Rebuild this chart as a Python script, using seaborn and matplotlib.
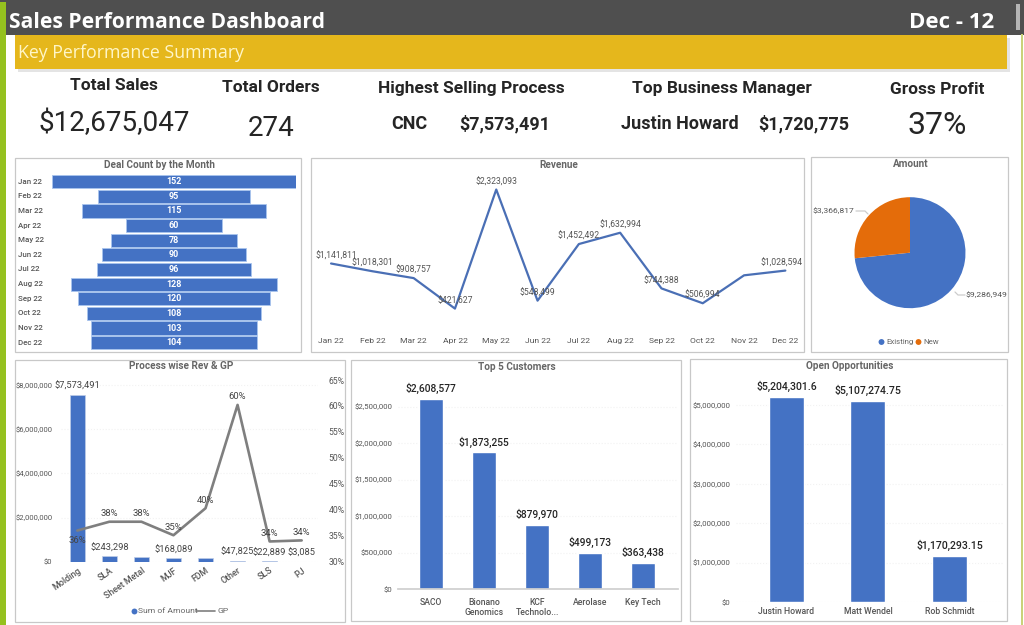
import matplotlib
matplotlib.use('Agg')
import matplotlib.pyplot as plt
from matplotlib.patches import Rectangle
from matplotlib.lines import Line2D
import numpy as np
import pandas as pd
import seaborn as sns

months = ['Jan 22', 'Feb 22', 'Mar 22', 'Apr 22', 'May 22', 'Jun 22',
          'Jul 22', 'Aug 22', 'Sep 22', 'Oct 22', 'Nov 22', 'Dec 22']
deal_counts = np.array([152, 95, 115, 60, 78, 90, 96, 128, 120, 108, 103, 104])
revenue = [1141811, 1018301, 908757, 421627, 2323093, 548499,
           1452492, 1632994, 744388, 506994, 953000, 1028594]
revenue_labels = ['$1,141,811', '$1,018,301', '$908,757', '$421,627', '$2,323,093', '$548,499',
                  '$1,452,492', '$1,632,994', '$744,388', '$506,994', '', '$1,028,594']

amount_names = ['Existing', 'New']
amount_values = [9286949, 3366817]

processes = ['Molding', 'SLA', 'Sheet Metal', 'MJF', 'FDM', 'Other', 'SLS', 'PJ']
process_rev = [7573491, 243298, 230000, 168089, 165000, 47825, 22889, 3085]
process_rev_labels = ['$7,573,491', '$243,298', '', '$168,089', '', '$47,825', '$22,889', '$3,085']
process_gp = [36, 37.7, 37.7, 35.1, 40.3, 60.2, 33.9, 34.1]
gp_labels = ['36%', '38%', '38%', '35%', '40%', '60%', '34%', '34%']

customers = ['SACO', 'Bionano\nGenomics', 'KCF\nTechnolo...', 'Aerolase', 'Key Tech']
customer_values = [2608577, 1873255, 879970, 499173, 363438]
customer_labels = ['$2,608,577', '$1,873,255', '$879,970', '$499,173', '$363,438']

managers = ['Justin Howard', 'Matt Wendel', 'Rob Schmidt']
manager_values = [5204301.6, 5107274.75, 1170293.15]
manager_labels = ['$5,204,301.6', '$5,107,274.75', '$1,170,293.15']

BLUE = '#4472C4'
ORANGE = '#E46C0A'
GREY_TXT = '#666666'
DARK = '#252525'
W, H = 1024, 625

sns.set_theme(style='white')
plt.rcParams['font.family'] = ['Roboto', 'DejaVu Sans']

fig = plt.figure(figsize=(W / 100, H / 100), dpi=100, facecolor='white')


def px_axes(x0, y0, x1, y1):
    # axes from pixel box, y counted from the top
    ax = fig.add_axes([x0 / W, 1 - y1 / H, (x1 - x0) / W, (y1 - y0) / H])
    ax.patch.set_alpha(0)
    sns.despine(ax=ax, left=True, bottom=True)
    return ax


bg = fig.add_axes([0, 0, 1, 1], zorder=-5)
bg.set_xlim(0, W)
bg.set_ylim(H, 0)
bg.axis('off')


def box(x0, y0, x1, y1, title, title_y):
    bg.add_patch(Rectangle((x0, y0), x1 - x0, y1 - y0, fc='white', ec='#c8c8c8', lw=0.9))
    bg.text((x0 + x1) / 2 + 1, title_y, title, ha='center', va='center', fontsize=7.2,
            fontweight='bold', color=GREY_TXT)


# header strips
bg.add_patch(Rectangle((0, 0), W, 34.5, fc='#4f4f4f', ec='none'))
bg.add_patch(Rectangle((0, 2), 6, H, fc='#95C11F', ec='none'))
bg.add_patch(Rectangle((1021, 34), 1.5, H, fc='#C9D27A', ec='none'))
bg.add_patch(Rectangle((18, 38), 992, 34, fc='#e4e4e4', ec='none'))
bg.add_patch(Rectangle((15, 35), 992, 34, fc='#E5B71C', ec='none'))
bg.add_patch(Rectangle((1016, 4), 4, 26, fc='#b5b5b5', ec='none'))
bg.text(9, 22, 'Sales Performance Dashboard', color='white', fontsize=15.1, fontweight='bold',
        family='Open Sans', va='center')
bg.text(952, 22, 'Dec - 12', color='white', fontsize=16, fontweight='bold',
        family='Open Sans', ha='center', va='center')
bg.text(18, 53, 'Key Performance Summary', color='#FFF6C8', fontsize=12.8, family='Open Sans', va='center')

# KPI row
kpis = [(114, 86, 'Total Sales', 12.5, 'bold'), (271, 87, 'Total Orders', 12.5, 'bold'),
        (471, 88, 'Highest Selling Process', 12.5, 'bold'), (722, 88, 'Top Business Manager', 12.5, 'bold'),
        (937, 89, 'Gross Profit', 12.5, 'bold'),
        (114, 123, '$12,675,047', 20, 'normal'), (271, 129, '274', 20, 'normal'),
        (409, 124, 'CNC', 13, 'bold'), (505, 124, '$7,573,491', 13, 'bold'),
        (680, 124, 'Justin Howard', 13, 'bold'), (804, 124, '$1,720,775', 13, 'bold'),
        (937, 125, '37%', 23, 'normal')]
for kx, ky, ktext, ksize, kweight in kpis:
    bg.text(kx, ky, ktext, ha='center', va='center', fontsize=ksize, fontweight=kweight, color=DARK)

box(15, 158, 301, 352, 'Deal Count by the Month', 165)
box(311, 158, 804, 352, 'Revenue', 165)
box(811, 157, 1008, 352, 'Amount', 164)
box(15, 360, 345, 622, 'Process wise Rev & GP', 366)
box(351, 360, 681, 621, 'Top 5 Customers', 367)
box(690, 359, 1007, 621, 'Open Opportunities', 366)

# funnel
ax = px_axes(52, 174.4, 296, 350)
funnel_df = pd.DataFrame({'month': months, 'count': deal_counts})
sns.barplot(data=funnel_df, x='count', y='month', left=-deal_counts / 2, color=BLUE, saturation=1,
            width=0.9, edgecolor='#A9C4EE', linewidth=0.6, ax=ax)
ax.set_xlim(-76, 76)
ax.set_xlabel('')
ax.set_ylabel('')
ax.set_xticks([])
ax.tick_params(axis='y', length=0, pad=0)
ax.set_yticks(range(12), [])
for i, (m, c) in enumerate(zip(months, deal_counts)):
    ax.text(0, i, str(c), ha='center', va='center', color='white', fontsize=6.5, fontweight='bold')
    bg.text(18, 181.7 + i * 14.63, m, ha='left', va='center', fontsize=5.7, color='#555555', fontweight='medium')

# revenue line
ax = px_axes(310.4, 170, 806, 335)
rev_df = pd.DataFrame({'month': months, 'revenue': revenue})
sns.lineplot(data=rev_df, x='month', y='revenue', color='#4A6FB5', linewidth=1.6, ax=ax)
ax.set_xlim(-0.5, 11.5)
ax.set_ylim(0, 2635000)
ax.set_xlabel('')
ax.set_ylabel('')
ax.set_yticks([])
ax.tick_params(axis='x', length=0, labelsize=6.1, labelcolor='#555555', pad=2)
for i, (v, t) in enumerate(zip(revenue, revenue_labels)):
    # first and last labels are pushed inside the panel
    dx = 3.5 if i == 0 else (-3 if i == 11 else 0)
    ax.annotate(t, (i, v), xytext=(dx, 5.6), textcoords='offset points', ha='center', va='center',
                fontsize=6.2, color='#555555')

# pie
ax = fig.add_axes([(910 - 55.5) / W, 1 - (252.7 + 55.5) / H, 111 / W, 111 / H])
ax.pie(amount_values, colors=[BLUE, ORANGE], startangle=90, counterclock=False, radius=1,
       wedgeprops={'linewidth': 0})
ax.set_xlim(-1, 1)
ax.set_ylim(-1, 1)
bg.text(833.5, 211, '$3,366,817', ha='center', va='center', fontsize=6.1, color='#555555')
bg.add_line(Line2D([856, 865, 868], [211, 211, 214], color='#cccccc', lw=0.9))
bg.text(986, 295, '$9,286,949', ha='center', va='center', fontsize=6.1, color='#555555')
bg.add_line(Line2D([955, 958, 965], [292, 295, 295], color='#cccccc', lw=0.9))
bg.scatter([881.5, 918.5], [342, 342], c=[BLUE, ORANGE], s=18, linewidths=0)
bg.text(886, 342, amount_names[0], ha='left', va='center', fontsize=5.7, color='#666666')
bg.text(923.5, 342, amount_names[1], ha='left', va='center', fontsize=5.7, color='#666666')

# process combo chart
ax = px_axes(61.3, 380, 317.7, 561.7)
proc_df = pd.DataFrame({'process': processes, 'rev': process_rev, 'gp': process_gp})
sns.barplot(data=proc_df, x='process', y='rev', color=BLUE, saturation=1, width=0.47,
            edgecolor='#BFCDE8', linewidth=0.5, ax=ax)
ax.set_ylim(0, 8240000)
ax.set_yticks([0, 2000000, 4000000, 6000000, 8000000],
              ['$0', '$2,000,000', '$4,000,000', '$6,000,000', '$8,000,000'])
ax.yaxis.grid(True, color='#f2f2f2', lw=0.8, ls=':')
ax.set_axisbelow(True)
ax.set_xlabel('')
ax.set_ylabel('')
ax.tick_params(axis='y', length=0, labelsize=5.5, labelcolor='#555555', pad=6.5)
ax.tick_params(axis='x', length=0, labelsize=6.4, labelcolor='#555555', pad=3)
plt.setp(ax.get_xticklabels(), rotation=35, ha='right', rotation_mode='anchor', fontweight='medium')
ax.set_xlim(-0.5, 7.5)
for i, (v, t) in enumerate(zip(process_rev, process_rev_labels)):
    ax.annotate(t, (i, v), xytext=(0, 6), textcoords='offset points', ha='center', va='center',
                fontsize=6.7, color='#444444')

ax2 = ax.twinx()
ax2.patch.set_alpha(0)
sns.despine(ax=ax2, left=True, bottom=True, right=True)
sns.lineplot(data=proc_df, x='process', y='gp', color='#7F7F7F', linewidth=1.9, ax=ax2)
ax2.set_ylim(30, 65)
ax2.set_yticks(range(30, 66, 5), [f'{p}%' for p in range(30, 66, 5)])
ax2.set_ylabel('')
ax2.tick_params(axis='y', length=0, labelsize=6.2, labelcolor='#555555', pad=8)
for i, (v, t) in enumerate(zip(process_gp, gp_labels)):
    off = -7 if i == 0 else 5.8
    ax2.annotate(t, (i, v), xytext=(0, off), textcoords='offset points', ha='center', va='center',
                 fontsize=6.8, color='#444444')
bg.scatter([134], [611], c=[BLUE], s=18, linewidths=0)
bg.text(138, 611, 'Sum of Amount', ha='left', va='center', fontsize=6.1, color='#666666')
bg.add_line(Line2D([196, 215], [611, 611], color='#7F7F7F', lw=1.2))
bg.text(217, 611, 'GP', ha='left', va='center', fontsize=6.1, color='#666666')

# top customers
ax = px_axes(398, 370, 678, 589.3)
cust_df = pd.DataFrame({'customer': customers, 'value': customer_values})
sns.barplot(data=cust_df, x='customer', y='value', color=BLUE, saturation=1, width=0.46, ax=ax)
ax.set_xlim(-0.63, 4.668)
ax.set_ylim(0, 3000000)
ax.set_yticks(range(0, 2500001, 500000), [f'${v:,}' for v in range(0, 2500001, 500000)])
ax.yaxis.grid(True, color='#f2f2f2', lw=0.8, ls=':')
ax.set_axisbelow(True)
ax.spines['bottom'].set_visible(True)
ax.spines['bottom'].set_color('#cfcfcf')
ax.set_xlabel('')
ax.set_ylabel('')
ax.tick_params(axis='y', length=0, labelsize=5.6, labelcolor='#555555', pad=4)
ax.tick_params(axis='x', length=0, labelsize=6.2, labelcolor='#555555', pad=6)
plt.setp(ax.get_xticklabels(), fontweight='medium')
for i, (v, t) in enumerate(zip(customer_values, customer_labels)):
    ax.annotate(t, (i, v), xytext=(0, 7.5), textcoords='offset points', ha='center', va='center',
                fontsize=7.4, fontweight='medium', color=DARK)

# open opportunities
ax = px_axes(735.7, 375, 1004, 602.3)
opp_df = pd.DataFrame({'manager': managers, 'value': manager_values})
sns.barplot(data=opp_df, x='manager', y='value', color=BLUE, saturation=1, width=0.43, ax=ax)
ax.set_xlim(-0.623, 2.67)
ax.set_ylim(0, 5760000)
ax.set_yticks(range(0, 5000001, 1000000), [f'${v:,}' for v in range(0, 5000001, 1000000)])
ax.yaxis.grid(True, color='#f2f2f2', lw=0.8, ls=':')
ax.set_axisbelow(True)
ax.set_xlabel('')
ax.set_ylabel('')
ax.tick_params(axis='y', length=0, labelsize=5.6, labelcolor='#555555', pad=4)
ax.tick_params(axis='x', length=0, labelsize=6.2, labelcolor='#555555', pad=3.5)
plt.setp(ax.get_xticklabels(), fontweight='medium')
for i, (v, t) in enumerate(zip(manager_values, manager_labels)):
    ax.annotate(t, (i, v), xytext=(0, 7.5), textcoords='offset points', ha='center', va='center',
                fontsize=7.6, fontweight='medium', color=DARK)

fig.savefig('out.png', dpi=100)
